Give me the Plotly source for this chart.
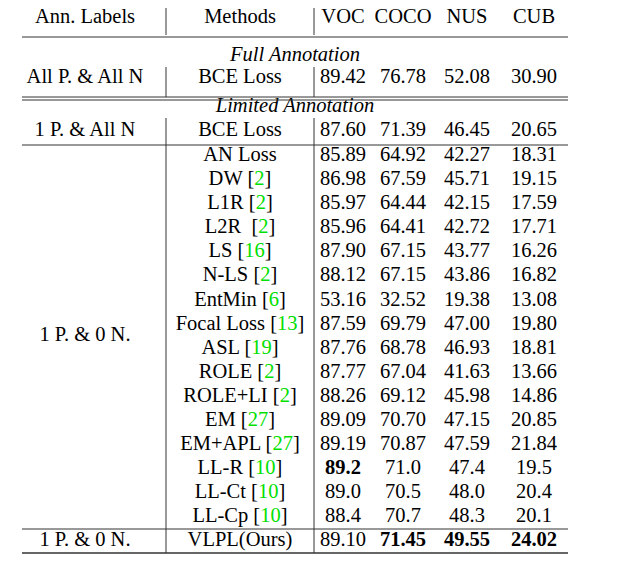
import plotly.graph_objects as go

# table content
ann_labels = ["All P. & All N", "1 P. & All N", "1 P. & 0 N.", "1 P. & 0 N."]
methods = ["BCE Loss", "BCE Loss", "AN Loss", "DW", "L1R", "L2R ", "LS", "N-LS", "EntMin",
           "Focal Loss", "ASL", "ROLE", "ROLE+LI", "EM", "EM+APL", "LL-R", "LL-Ct", "LL-Cp",
           "VLPL(Ours)"]
cites = ["", "", "", "2", "2", "2", "16", "2", "6", "13", "19", "2", "2", "27", "27",
         "10", "10", "10", ""]
voc = ["89.42", "87.60", "85.89", "86.98", "85.97", "85.96", "87.90", "88.12", "53.16", "87.59",
       "87.76", "87.77", "88.26", "89.09", "89.19", "89.2", "89.0", "88.4", "89.10"]
coco = ["76.78", "71.39", "64.92", "67.59", "64.44", "64.41", "67.15", "67.15", "32.52", "69.79",
        "68.78", "67.04", "69.12", "70.70", "70.87", "71.0", "70.5", "70.7", "71.45"]
nus = ["52.08", "46.45", "42.27", "45.71", "42.15", "42.72", "43.77", "43.86", "19.38", "47.00",
       "46.93", "41.63", "45.98", "47.15", "47.59", "47.4", "48.0", "48.3", "49.55"]
cub = ["30.90", "20.65", "18.31", "19.15", "17.59", "17.71", "16.26", "16.82", "13.08", "19.80",
       "18.81", "13.66", "14.86", "20.85", "21.84", "19.5", "20.4", "20.1", "24.02"]
bold = {("voc", 15), ("coco", 18), ("nus", 18), ("cub", 18)}
headers = ["Ann. Labels", "Methods", "VOC", "COCO", "NUS", "CUB"]
caption = "different models with the same experimental settings as the [2]. Using the same input imag"

GREEN = "#00e000"
FS = 20.5
col_x = [85, 240, 343, 403, 467, 534]
row_y = [78, 131] + [156 + 24.07 * i for i in range(16)] + [541]
ann_y = [78, 131, 336, 541]

fig = go.Figure()


def add_text(xs, ys, texts, pos="middle center"):
    fig.add_trace(go.Scatter(x=xs, y=ys, text=texts, mode="text", cliponaxis=False,
                             textposition=pos,
                             textfont=dict(family="Liberation Serif", size=FS, color="black"),
                             hoverinfo="skip", showlegend=False))


def method_text(m, c):
    if c:
        return m + " [<span style='color:%s'>%s</span>]" % (GREEN, c)
    return m


def fmt(name, i, v):
    return "<b>%s</b>" % v if (name, i) in bold else v


add_text(col_x, [18] * 6, headers)
add_text([col_x[0]] * 4, ann_y, ann_labels)
add_text([col_x[1]] * len(methods), row_y, [method_text(m, c) for m, c in zip(methods, cites)])
for name, vals, x in [("voc", voc, col_x[2]), ("coco", coco, col_x[3]),
                      ("nus", nus, col_x[4]), ("cub", cub, col_x[5])]:
    add_text([x] * len(vals), row_y, [fmt(name, i, v) for i, v in enumerate(vals)])
add_text([295, 295], [56, 107], ["<i>Full Annotation</i>", "<i>Limited Annotation</i>"])
add_text([-6], [572], [caption.replace("[2]", "[<span style='color:%s'>2</span>]" % GREEN)],
         pos="middle right")

# rules
for y, w in [(3, 1.5), (37, 1), (97, 1), (100, 1), (145, 1), (529, 1), (553, 1.5)]:
    fig.add_shape(type="line", x0=22, x1=568, y0=y, y1=y, line=dict(color="#333", width=w))
for y0, y1 in [(4, 35), (67, 97), (118, 145), (145, 553)]:
    for x in [166, 314]:
        fig.add_shape(type="line", x0=x, x1=x, y0=y0, y1=y1, line=dict(color="#333", width=1))

# page body has an 8px margin, so shift the ranges to keep pixel alignment
fig.update_xaxes(range=[8, 632], visible=False, fixedrange=True)
fig.update_yaxes(range=[568, 8], visible=False, fixedrange=True)
fig.update_layout(width=624, height=560, margin=dict(l=0, r=0, t=0, b=0),
                  plot_bgcolor="white", paper_bgcolor="white")
fig.write_html("out.html")
